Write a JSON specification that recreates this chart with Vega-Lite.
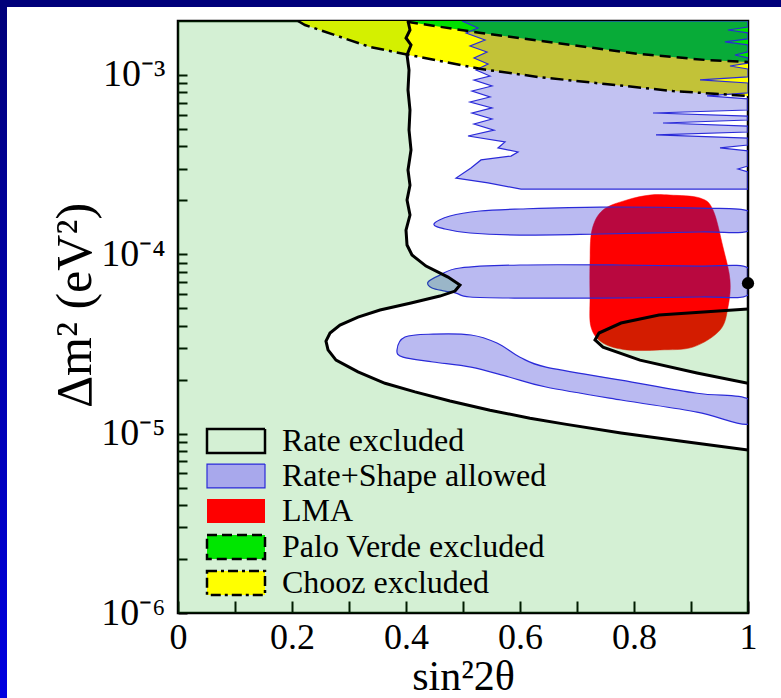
{
  "$schema": "https://vega.github.io/schema/vega-lite/v6.json",
  "padding": 0,
  "background": "white",
  "spacing": 0,
  "bounds": "flush",
  "config": {"view": {"stroke": null}, "font": "Liberation Serif"},
  "datasets": {
    "chooz": [
      {"x": 0.2105, "y": 0.002}, {"x": 0.2228, "y": 0.0019}, {"x": 0.3368, "y": 0.001433},
      {"x": 0.407, "y": 0.00129}, {"x": 0.5316, "y": 0.00108}, {"x": 0.6316, "y": 0.000975},
      {"x": 0.7491, "y": 0.000891}, {"x": 0.8684, "y": 0.000814}, {"x": 1.0, "y": 0.000764}
    ],
    "pv": [
      {"x": 0.4018, "y": 0.00198}, {"x": 0.5316, "y": 0.001715}, {"x": 0.6912, "y": 0.00147},
      {"x": 0.8088, "y": 0.00131}, {"x": 0.9263, "y": 0.001212}, {"x": 1.0, "y": 0.001182}
    ],
    "lma": [
      {"i": 0, "x": 0.7877, "y": 0.000201}, {"i": 1, "x": 0.828, "y": 0.000214},
      {"i": 2, "x": 0.8632, "y": 0.000214}, {"i": 3, "x": 0.9158, "y": 0.000206},
      {"i": 4, "x": 0.9386, "y": 0.0001767}, {"i": 5, "x": 0.9561, "y": 0.0001098},
      {"i": 6, "x": 0.9684, "y": 0.0000719}, {"i": 7, "x": 0.9649, "y": 0.0000508},
      {"i": 8, "x": 0.9509, "y": 0.0000378}, {"i": 9, "x": 0.9035, "y": 0.0000304},
      {"i": 10, "x": 0.8456, "y": 0.0000293}, {"i": 11, "x": 0.7877, "y": 0.0000293},
      {"i": 12, "x": 0.7456, "y": 0.000032}, {"i": 13, "x": 0.7246, "y": 0.0000393},
      {"i": 14, "x": 0.7228, "y": 0.0000578}, {"i": 15, "x": 0.7228, "y": 0.0000894},
      {"i": 16, "x": 0.7263, "y": 0.0001366}, {"i": 17, "x": 0.7456, "y": 0.0001767}
    ],
    "bands": [
      {"g": 1, "i": 0, "x": 0.4982, "y": 0.002}, {"g": 1, "i": 1, "x": 0.5263, "y": 0.001829},
      {"g": 1, "i": 2, "x": 0.5053, "y": 0.001715}, {"g": 1, "i": 3, "x": 0.5386, "y": 0.001567},
      {"g": 1, "i": 4, "x": 0.5123, "y": 0.001451}, {"g": 1, "i": 5, "x": 0.5421, "y": 0.001344},
      {"g": 1, "i": 6, "x": 0.5193, "y": 0.001244}, {"g": 1, "i": 7, "x": 0.5439, "y": 0.001151},
      {"g": 1, "i": 8, "x": 0.5228, "y": 0.001066}, {"g": 1, "i": 9, "x": 0.5474, "y": 0.000987},
      {"g": 1, "i": 10, "x": 0.5193, "y": 0.000938}, {"g": 1, "i": 11, "x": 0.5509, "y": 0.000868},
      {"g": 1, "i": 12, "x": 0.5158, "y": 0.000814}, {"g": 1, "i": 13, "x": 0.5474, "y": 0.000754},
      {"g": 1, "i": 14, "x": 0.5123, "y": 0.000707}, {"g": 1, "i": 15, "x": 0.5509, "y": 0.000655},
      {"g": 1, "i": 16, "x": 0.5158, "y": 0.000614}, {"g": 1, "i": 17, "x": 0.5509, "y": 0.000568},
      {"g": 1, "i": 18, "x": 0.5193, "y": 0.000533}, {"g": 1, "i": 19, "x": 0.5544, "y": 0.000493},
      {"g": 1, "i": 20, "x": 0.5088, "y": 0.000457}, {"g": 1, "i": 21, "x": 0.5737, "y": 0.000423},
      {"g": 1, "i": 22, "x": 0.5614, "y": 0.000392}, {"g": 1, "i": 23, "x": 0.5965, "y": 0.000372},
      {"g": 1, "i": 24, "x": 0.5842, "y": 0.000353}, {"g": 1, "i": 25, "x": 0.5316, "y": 0.000336},
      {"g": 1, "i": 26, "x": 0.514, "y": 0.000303}, {"g": 1, "i": 27, "x": 0.4877, "y": 0.000266},
      {"g": 1, "i": 28, "x": 0.5439, "y": 0.00025}, {"g": 1, "i": 29, "x": 0.6018, "y": 0.000231},
      {"g": 1, "i": 30, "x": 1.0, "y": 0.000231}, {"g": 1, "i": 31, "x": 1.0, "y": 0.000288},
      {"g": 1, "i": 32, "x": 0.9825, "y": 0.000299}, {"g": 1, "i": 33, "x": 1.0, "y": 0.000311},
      {"g": 1, "i": 34, "x": 1.0, "y": 0.000377}, {"g": 1, "i": 35, "x": 0.9509, "y": 0.000392},
      {"g": 1, "i": 36, "x": 1.0, "y": 0.000407}, {"g": 1, "i": 37, "x": 1.0, "y": 0.000445},
      {"g": 1, "i": 38, "x": 0.8386, "y": 0.000463}, {"g": 1, "i": 39, "x": 1.0, "y": 0.000481},
      {"g": 1, "i": 40, "x": 1.0, "y": 0.000519}, {"g": 1, "i": 41, "x": 0.8509, "y": 0.00054},
      {"g": 1, "i": 42, "x": 1.0, "y": 0.000561}, {"g": 1, "i": 43, "x": 1.0, "y": 0.00059},
      {"g": 1, "i": 44, "x": 0.8333, "y": 0.000614}, {"g": 1, "i": 45, "x": 1.0, "y": 0.000638},
      {"g": 1, "i": 46, "x": 1.0, "y": 0.000735}, {"g": 1, "i": 47, "x": 0.9281, "y": 0.000764},
      {"g": 1, "i": 48, "x": 1.0, "y": 0.000794}, {"g": 1, "i": 49, "x": 1.0, "y": 0.000902},
      {"g": 1, "i": 50, "x": 0.9158, "y": 0.000938}, {"g": 1, "i": 51, "x": 1.0, "y": 0.000975},
      {"g": 1, "i": 52, "x": 1.0, "y": 0.00108}, {"g": 1, "i": 53, "x": 0.9684, "y": 0.001122},
      {"g": 1, "i": 54, "x": 1.0, "y": 0.001166}, {"g": 1, "i": 55, "x": 1.0, "y": 0.001244},
      {"g": 1, "i": 56, "x": 0.9772, "y": 0.001293}, {"g": 1, "i": 57, "x": 1.0, "y": 0.001344},
      {"g": 1, "i": 58, "x": 1.0, "y": 0.00147}, {"g": 1, "i": 59, "x": 0.9596, "y": 0.001528},
      {"g": 1, "i": 60, "x": 1.0, "y": 0.001588}, {"g": 1, "i": 61, "x": 1.0, "y": 0.001715},
      {"g": 1, "i": 62, "x": 0.9649, "y": 0.001782}, {"g": 1, "i": 63, "x": 1.0, "y": 0.001852},
      {"g": 1, "i": 64, "x": 1.0, "y": 0.002},
      {"g": 2, "i": 0, "x": 0.4491, "y": 0.0001476}, {"g": 2, "i": 1, "x": 0.4772, "y": 0.0001635},
      {"g": 2, "i": 2, "x": 0.5298, "y": 0.0001744}, {"g": 2, "i": 3, "x": 0.6, "y": 0.000179},
      {"g": 2, "i": 4, "x": 0.7404, "y": 0.0001835}, {"g": 2, "i": 5, "x": 0.9158, "y": 0.000181},
      {"g": 2, "i": 6, "x": 1.0, "y": 0.0001744}, {"g": 2, "i": 7, "x": 1.0, "y": 0.0001349},
      {"g": 2, "i": 8, "x": 0.9158, "y": 0.0001332}, {"g": 2, "i": 9, "x": 0.7404, "y": 0.0001298},
      {"g": 2, "i": 10, "x": 0.6, "y": 0.0001281}, {"g": 2, "i": 11, "x": 0.5123, "y": 0.0001315},
      {"g": 2, "i": 12, "x": 0.4684, "y": 0.0001384},
      {"g": 3, "i": 0, "x": 0.4386, "y": 0.00007}, {"g": 3, "i": 1, "x": 0.4596, "y": 0.0000766},
      {"g": 3, "i": 2, "x": 0.4947, "y": 0.0000839}, {"g": 3, "i": 3, "x": 0.6, "y": 0.0000872},
      {"g": 3, "i": 4, "x": 0.7754, "y": 0.0000872}, {"g": 3, "i": 5, "x": 0.9158, "y": 0.000086},
      {"g": 3, "i": 6, "x": 1.0, "y": 0.0000839}, {"g": 3, "i": 7, "x": 1.0, "y": 0.0000593},
      {"g": 3, "i": 8, "x": 0.9158, "y": 0.0000578}, {"g": 3, "i": 9, "x": 0.7404, "y": 0.000057},
      {"g": 3, "i": 10, "x": 0.6, "y": 0.000057}, {"g": 3, "i": 11, "x": 0.5123, "y": 0.0000578},
      {"g": 3, "i": 12, "x": 0.4877, "y": 0.0000608}, {"g": 3, "i": 13, "x": 0.4684, "y": 0.0000624},
      {"g": 3, "i": 14, "x": 0.4456, "y": 0.0000649},
      {"g": 4, "i": 0, "x": 0.3842, "y": 0.0000293}, {"g": 4, "i": 1, "x": 0.3982, "y": 0.0000346},
      {"g": 4, "i": 2, "x": 0.4474, "y": 0.0000359}, {"g": 4, "i": 3, "x": 0.514, "y": 0.0000355},
      {"g": 4, "i": 4, "x": 0.5596, "y": 0.000032}, {"g": 4, "i": 5, "x": 0.6, "y": 0.0000267},
      {"g": 4, "i": 6, "x": 0.6456, "y": 0.0000235}, {"g": 4, "i": 7, "x": 0.7772, "y": 0.0000199},
      {"g": 4, "i": 8, "x": 0.9105, "y": 0.0000168}, {"g": 4, "i": 9, "x": 1.0, "y": 0.0000156},
      {"g": 4, "i": 10, "x": 1.0, "y": 0.0000113}, {"g": 4, "i": 11, "x": 0.9105, "y": 0.0000132},
      {"g": 4, "i": 12, "x": 0.7772, "y": 0.0000154}, {"g": 4, "i": 13, "x": 0.6456, "y": 0.0000182},
      {"g": 4, "i": 14, "x": 0.5807, "y": 0.0000207}, {"g": 4, "i": 15, "x": 0.514, "y": 0.0000235},
      {"g": 4, "i": 16, "x": 0.4474, "y": 0.0000251}, {"g": 4, "i": 17, "x": 0.3947, "y": 0.0000267}
    ],
    "rate": [
      {"g": "A", "i": 0, "x": 0.4035, "y": 0.002, "corner": false},
      {"g": "A", "i": 1, "x": 0.407, "y": 0.001782, "corner": false},
      {"g": "A", "i": 2, "x": 0.4, "y": 0.001608, "corner": false},
      {"g": "A", "i": 3, "x": 0.4088, "y": 0.00147, "corner": false},
      {"g": "A", "i": 4, "x": 0.4018, "y": 0.001293, "corner": false},
      {"g": "A", "i": 5, "x": 0.4053, "y": 0.001066, "corner": false},
      {"g": "A", "i": 6, "x": 0.4035, "y": 0.000825, "corner": false},
      {"g": "A", "i": 7, "x": 0.407, "y": 0.000638, "corner": false},
      {"g": "A", "i": 8, "x": 0.4053, "y": 0.000493, "corner": false},
      {"g": "A", "i": 9, "x": 0.4088, "y": 0.000382, "corner": false},
      {"g": "A", "i": 10, "x": 0.4035, "y": 0.000295, "corner": false},
      {"g": "A", "i": 11, "x": 0.407, "y": 0.000243, "corner": false},
      {"g": "A", "i": 12, "x": 0.4018, "y": 0.000201, "corner": false},
      {"g": "A", "i": 13, "x": 0.407, "y": 0.0001656, "corner": false},
      {"g": "A", "i": 14, "x": 0.4, "y": 0.0001366, "corner": false},
      {"g": "A", "i": 15, "x": 0.4018, "y": 0.0001127, "corner": false},
      {"g": "A", "i": 16, "x": 0.4105, "y": 0.0000991, "corner": false},
      {"g": "A", "i": 17, "x": 0.4351, "y": 0.000086, "corner": false},
      {"g": "A", "i": 18, "x": 0.4737, "y": 0.0000747, "corner": false},
      {"g": "A", "i": 19, "x": 0.4947, "y": 0.0000674, "corner": false},
      {"g": "A", "i": 20, "x": 0.486, "y": 0.0000624, "corner": false},
      {"g": "A", "i": 21, "x": 0.4596, "y": 0.0000585, "corner": false},
      {"g": "A", "i": 22, "x": 0.4088, "y": 0.0000535, "corner": false},
      {"g": "A", "i": 23, "x": 0.3544, "y": 0.0000489, "corner": false},
      {"g": "A", "i": 24, "x": 0.3158, "y": 0.0000447, "corner": false},
      {"g": "A", "i": 25, "x": 0.2842, "y": 0.0000403, "corner": false},
      {"g": "A", "i": 26, "x": 0.2667, "y": 0.0000364, "corner": false},
      {"g": "A", "i": 27, "x": 0.2596, "y": 0.0000328, "corner": false},
      {"g": "A", "i": 28, "x": 0.2632, "y": 0.0000293, "corner": false},
      {"g": "A", "i": 29, "x": 0.2772, "y": 0.0000257, "corner": false},
      {"g": "A", "i": 30, "x": 0.3158, "y": 0.0000221, "corner": false},
      {"g": "A", "i": 31, "x": 0.3632, "y": 0.0000191, "corner": false},
      {"g": "A", "i": 32, "x": 0.4158, "y": 0.0000171, "corner": false},
      {"g": "A", "i": 33, "x": 0.4772, "y": 0.0000152, "corner": false},
      {"g": "A", "i": 34, "x": 0.5474, "y": 0.0000135, "corner": false},
      {"g": "A", "i": 35, "x": 0.6175, "y": 0.0000122, "corner": false},
      {"g": "A", "i": 36, "x": 0.6789, "y": 0.0000113, "corner": false},
      {"g": "A", "i": 37, "x": 0.7772, "y": 0.00001008, "corner": false},
      {"g": "A", "i": 38, "x": 0.8807, "y": 0.00000909, "corner": false},
      {"g": "A", "i": 39, "x": 1.0, "y": 0.0000081, "corner": false},
      {"g": "A", "i": 40, "x": 1.0, "y": 0.000001, "corner": true},
      {"g": "A", "i": 41, "x": 0.0, "y": 0.000001, "corner": true},
      {"g": "A", "i": 42, "x": 0.0, "y": 0.002, "corner": true},
      {"g": "B", "i": 0, "x": 1.0, "y": 0.0000495, "corner": false},
      {"g": "B", "i": 1, "x": 0.8439, "y": 0.0000459, "corner": false},
      {"g": "B", "i": 2, "x": 0.7772, "y": 0.0000414, "corner": false},
      {"g": "B", "i": 3, "x": 0.7386, "y": 0.0000364, "corner": false},
      {"g": "B", "i": 4, "x": 0.7316, "y": 0.0000333, "corner": false},
      {"g": "B", "i": 5, "x": 0.7456, "y": 0.0000304, "corner": false},
      {"g": "B", "i": 6, "x": 0.8105, "y": 0.0000257, "corner": false},
      {"g": "B", "i": 7, "x": 0.9105, "y": 0.0000218, "corner": false},
      {"g": "B", "i": 8, "x": 1.0, "y": 0.0000191, "corner": false}
    ],
    "legend": [
      {"region": "Rate excluded"}, {"region": "Rate+Shape allowed"}, {"region": "LMA"},
      {"region": "Palo Verde excluded"}, {"region": "Chooz excluded"}
    ]
  },
  "vconcat": [
    {
      "width": 781, "height": 7,
      "data": {"values": [{"k": 1}]},
      "mark": {"type": "rect", "color": "#00007a"},
      "encoding": {}
    },
    {
      "spacing": 171,
      "bounds": "flush",
      "hconcat": [
        {
          "width": 7, "height": 691,
          "data": {"values": [{"k": 1}]},
          "mark": {"type": "rect", "color": {"gradient": "linear", "x1": 0, "y1": 0, "x2": 0, "y2": 1,
            "stops": [{"offset": 0, "color": "#00007a"}, {"offset": 1, "color": "#0000e0"}]}},
          "encoding": {}
        },
        {
          "spacing": 13,
          "bounds": "flush",
          "vconcat": [
            {"width": 570, "height": 1, "data": {"values": []}, "mark": "point", "encoding": {}},
            {
              "width": 570, "height": 592,
              "view": {"stroke": "black", "strokeWidth": 2.5},
              "encoding": {
                "x": {"field": "x", "type": "quantitative",
                  "scale": {"domain": [0, 1], "nice": false, "zero": false},
                  "axis": {"title": "sin²2θ", "values": [0, 0.1, 0.2, 0.3, 0.4, 0.5, 0.6, 0.7, 0.8, 0.9, 1],
                    "labelExpr": "datum.value == 0 ? '0' : datum.value == 1 ? '1' : (round(datum.value * 10) % 2 == 0 ? format(datum.value, '.1f') : '')",
                    "domain": false, "grid": false, "tickSize": -12, "tickWidth": 2, "tickColor": "black",
                    "labelPadding": 19, "labelFont": "Liberation Serif", "labelFontSize": 36, "labelColor": "black",
                    "labelFlush": false, "labelOverlap": false, "labelBound": false,
                    "titleFont": "Liberation Serif", "titleFontSize": 42, "titleFontWeight": "normal", "titleColor": "black",
                    "titleX": 285, "titleY": 85, "titleBaseline": "bottom", "titleAlign": "center"}},
                "y": {"field": "y", "type": "quantitative",
                  "scale": {"type": "log", "domain": [0.000001, 0.002], "nice": false},
                  "axis": {"title": "Δm² (eV²)",
                    "values": [0.000001, 0.000002, 0.000003, 0.000004, 0.000005, 0.000006, 0.000007, 0.000008, 0.000009,
                      0.00001, 0.00002, 0.00003, 0.00004, 0.00005, 0.00006, 0.00007, 0.00008, 0.00009,
                      0.0001, 0.0002, 0.0003, 0.0004, 0.0005, 0.0006, 0.0007, 0.0008, 0.0009, 0.001],
                    "labelExpr": "datum.value == 0.001 ? '10⁻³' : datum.value == 0.0001 ? '10⁻⁴' : datum.value == 0.00001 ? '10⁻⁵' : datum.value == 0.000001 ? '10⁻⁶' : ''",
                    "domain": false, "grid": false, "tickSize": -9, "tickWidth": 2, "tickColor": "black",
                    "encode": {"ticks": {"update": {"x2": {"signal": "abs(log(datum.value)/LN10 - round(log(datum.value)/LN10)) < 0.001 ? 17 : 9"}}}},
                    "labelPadding": 22, "labelFont": "Liberation Serif", "labelFontSize": 38, "labelColor": "black",
                    "labelOverlap": false, "labelBound": false, "labelFlush": false, "labelBaseline": "middle",
                    "titleFont": "Liberation Serif", "titleFontSize": 50, "titleFontWeight": "normal", "titleColor": "black",
                    "titleX": -88, "titleY": 284, "titleAngle": -90, "titleBaseline": "alphabetic", "titleAlign": "center"}}
              },
              "layer": [
                {"data": {"name": "chooz"}, "mark": {"type": "area", "color": "#ffff00", "clip": true},
                 "encoding": {"y2": {"datum": 0.002}}},
                {"data": {"name": "pv"}, "mark": {"type": "area", "color": "#00e000", "clip": true},
                 "encoding": {"y2": {"datum": 0.002}}},
                {"data": {"name": "lma"}, "mark": {"type": "line", "interpolate": "cardinal-closed", "fill": "#fe0000", "stroke": "#fe0000", "strokeWidth": 0.5, "clip": true},
                 "encoding": {"order": {"field": "i", "type": "quantitative"}}},
                {"data": {"name": "bands"}, "transform": [{"filter": "datum.g == 1"}],
                 "mark": {"type": "line", "interpolate": "linear-closed", "fill": "#1c1cd0", "fillOpacity": 0.27, "stroke": "#2a2ad8", "strokeWidth": 1.2, "clip": true},
                 "encoding": {"detail": {"field": "g", "type": "nominal"}, "order": {"field": "i", "type": "quantitative"}}},
                {"data": {"name": "bands"}, "transform": [{"filter": "datum.g != 1"}],
                 "mark": {"type": "line", "interpolate": "cardinal-closed", "fill": "#1c1cd0", "fillOpacity": 0.3, "stroke": "#2a2ad8", "strokeWidth": 1.2, "clip": true},
                 "encoding": {"detail": {"field": "g", "type": "nominal"}, "order": {"field": "i", "type": "quantitative"}}},
                {"data": {"name": "rate"},
                 "mark": {"type": "line", "interpolate": "linear-closed", "fill": "#00a600", "fillOpacity": 0.17, "strokeWidth": 0, "clip": true},
                 "encoding": {"detail": {"field": "g", "type": "nominal"}, "order": {"field": "i", "type": "quantitative"}}},
                {"data": {"name": "rate"}, "transform": [{"filter": "!datum.corner"}],
                 "mark": {"type": "line", "color": "black", "strokeWidth": 3, "interpolate": "linear", "clip": true},
                 "encoding": {"detail": {"field": "g", "type": "nominal"}, "order": {"field": "i", "type": "quantitative"}}},
                {"data": {"name": "pv"}, "mark": {"type": "line", "color": "black", "strokeWidth": 2.5, "strokeDash": [11, 6], "clip": true}, "encoding": {}},
                {"data": {"name": "chooz"}, "mark": {"type": "line", "color": "black", "strokeWidth": 2.5, "strokeDash": [13, 5, 3, 5], "clip": true}, "encoding": {}},
                {"data": {"values": [{"x": 1.0, "y": 0.000069}]}, "mark": {"type": "point", "filled": true, "color": "black", "size": 150, "opacity": 1}},
                {"data": {"name": "legend"}, "mark": {"type": "point", "filled": true, "opacity": 0},
                 "encoding": {
                   "fill": {"field": "region", "type": "nominal",
                     "scale": {"domain": ["Rate excluded", "Rate+Shape allowed", "LMA", "Palo Verde excluded", "Chooz excluded"],
                               "range": ["#d4f0d4", "#a8a8ec", "#fe0000", "#00e600", "#ffff00"]},
                     "legend": {"title": null, "orient": "none", "legendX": 220, "legendY": 425, "padding": 0,
                       "symbolType": "M-1,-0.41H1V0.41H-1Z", "symbolSize": 3364, "symbolOpacity": 1, "symbolStrokeWidth": 2.5,
                       "labelFont": "Liberation Serif", "labelFontSize": 32, "labelColor": "black", "labelOffset": 30,
                       "rowPadding": 2, "labelLimit": 0,
                       "encode": {"symbols": {"update": {
                         "stroke": {"signal": "datum.value === 'Rate+Shape allowed' ? '#2a2ad8' : datum.value === 'LMA' ? 'transparent' : 'black'"},
                         "strokeWidth": {"signal": "datum.value === 'Rate+Shape allowed' ? 1.2 : 2.5"},
                         "strokeDash": {"signal": "datum.value === 'Palo Verde excluded' ? [10, 5] : datum.value === 'Chooz excluded' ? [10, 4, 3, 4] : [1, 0]"}
                       }}}}
                   }
                 }}
              ]
            }
          ]
        }
      ]
    }
  ]
}
